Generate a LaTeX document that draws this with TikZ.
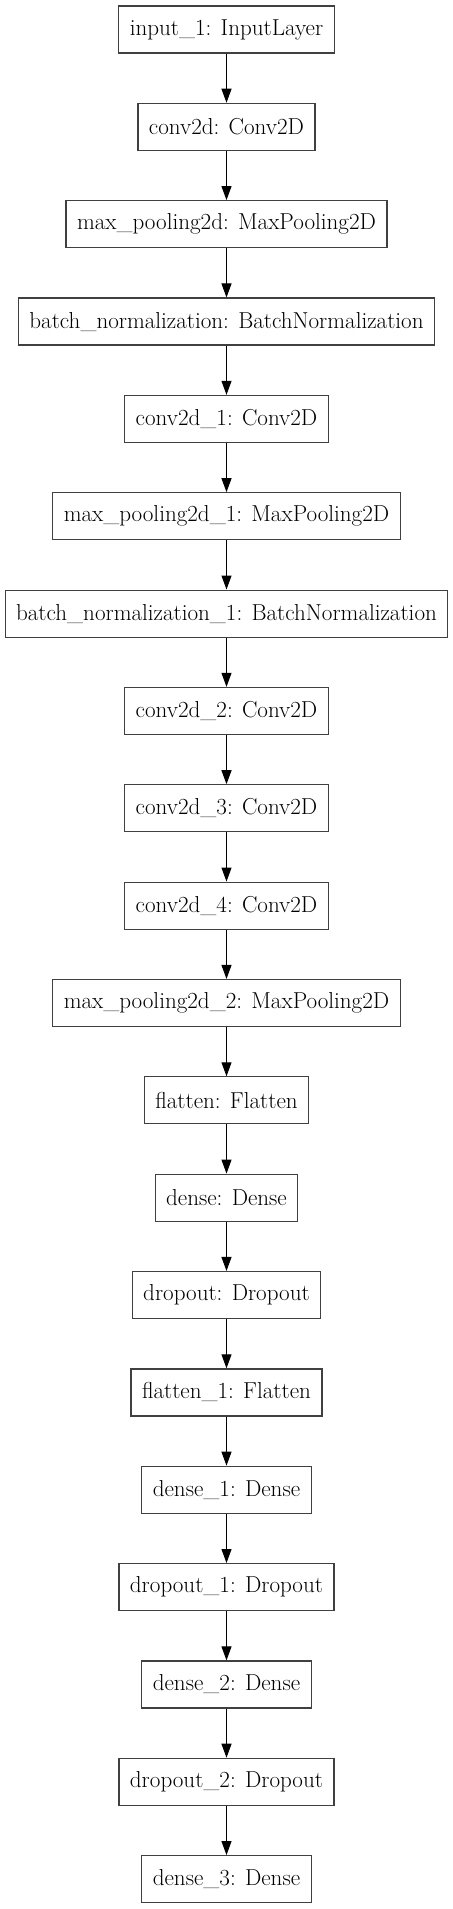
\documentclass[tikz,border=0pt]{standalone}
\usepackage{tikz}
\usetikzlibrary{arrows.meta}

\begin{document}
\begin{tikzpicture}[x=0.75pt, y=-0.75pt]
    \tikzstyle{layer}=[draw=black!75, line width=0.9pt, rectangle, inner xsep=8.25pt, inner ysep=0pt, minimum height=35.25pt, font=\fontsize{17.3}{20}\selectfont]
    \tikzstyle{edge}=[draw, line width=.75pt, black, -{Triangle[length=10.5pt, width=7.5pt]}]
    \useasboundingbox (0,0) rectangle (453,1909);
    \node[layer] (input1) at (226.5,29.5) {input\_1: InputLayer};
    \node[layer] (conv2d) at (226.5,126.85) {conv2d: Conv2D};
    \node[layer] (maxpool) at (226.5,224.2) {max\_pooling2d: MaxPooling2D};
    \node[layer] (batchnorm) at (226.5,321.55) {batch\_normalization: BatchNormalization};
    \node[layer] (conv2d1) at (226.5,418.9) {conv2d\_1: Conv2D};
    \node[layer] (maxpool1) at (226.5,516.25) {max\_pooling2d\_1: MaxPooling2D};
    \node[layer] (batchnorm1) at (226.5,613.6) {batch\_normalization\_1: BatchNormalization};
    \node[layer] (conv2d2) at (226.5,710.95) {conv2d\_2: Conv2D};
    \node[layer] (conv2d3) at (226.5,808.3) {conv2d\_3: Conv2D};
    \node[layer] (conv2d4) at (226.5,905.65) {conv2d\_4: Conv2D};
    \node[layer] (maxpool2) at (226.5,1003) {max\_pooling2d\_2: MaxPooling2D};
    \node[layer] (flatten) at (226.5,1100.35) {flatten: Flatten};
    \node[layer] (dense) at (226.5,1197.7) {dense: Dense};
    \node[layer] (dropout) at (226.5,1295.05) {dropout: Dropout};
    \node[layer] (flatten1) at (226.5,1392.4) {flatten\_1: Flatten};
    \node[layer] (dense1) at (226.5,1489.75) {dense\_1: Dense};
    \node[layer] (dropout1) at (226.5,1587.1) {dropout\_1: Dropout};
    \node[layer] (dense2) at (226.5,1684.45) {dense\_2: Dense};
    \node[layer] (dropout2) at (226.5,1781.8) {dropout\_2: Dropout};
    \node[layer] (dense3) at (226.5,1879.15) {dense\_3: Dense};
    \draw[edge] (input1) -- (conv2d);
    \draw[edge] (conv2d) -- (maxpool);
    \draw[edge] (maxpool) -- (batchnorm);
    \draw[edge] (batchnorm) -- (conv2d1);
    \draw[edge] (conv2d1) -- (maxpool1);
    \draw[edge] (maxpool1) -- (batchnorm1);
    \draw[edge] (batchnorm1) -- (conv2d2);
    \draw[edge] (conv2d2) -- (conv2d3);
    \draw[edge] (conv2d3) -- (conv2d4);
    \draw[edge] (conv2d4) -- (maxpool2);
    \draw[edge] (maxpool2) -- (flatten);
    \draw[edge] (flatten) -- (dense);
    \draw[edge] (dense) -- (dropout);
    \draw[edge] (dropout) -- (flatten1);
    \draw[edge] (flatten1) -- (dense1);
    \draw[edge] (dense1) -- (dropout1);
    \draw[edge] (dropout1) -- (dense2);
    \draw[edge] (dense2) -- (dropout2);
    \draw[edge] (dropout2) -- (dense3);
\end{tikzpicture}
\end{document}
